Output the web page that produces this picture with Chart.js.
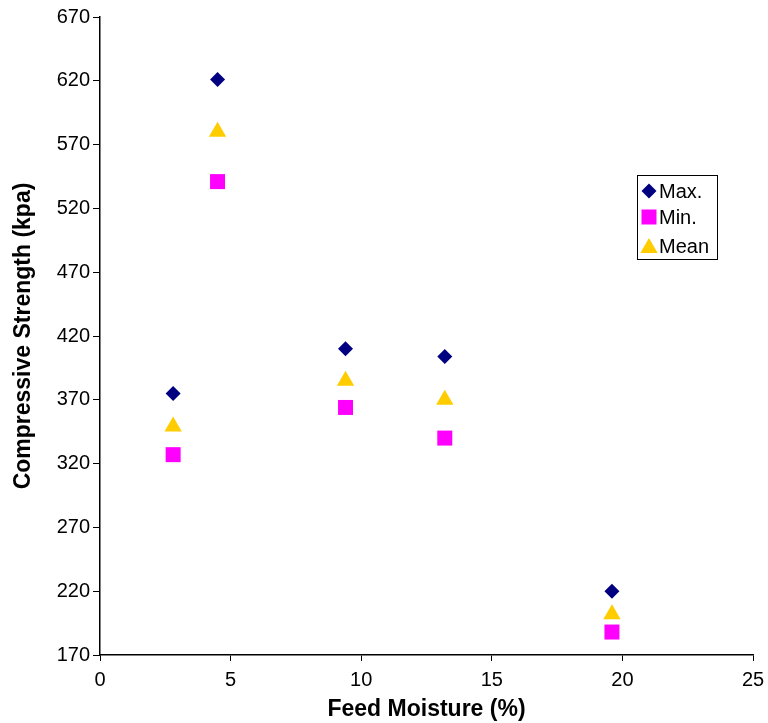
<!DOCTYPE html>
<html>
<head>
<meta charset="utf-8">
<script src="https://cdn.jsdelivr.net/npm/chart.js@4.4.1/dist/chart.umd.min.js"></script>
<style>
  html, body { margin: 0; padding: 0; background: #fff; }
  #wrap { width: 768px; height: 723px; }
</style>
</head>
<body>
<div id="wrap"><canvas id="myChart" width="768" height="723"></canvas></div>
<script>
// values
var moisture = [2.8, 4.5, 9.4, 13.2, 19.6];
var maxStrength = [375, 621, 410, 404, 220];
var minStrength = [327, 541, 364, 340, 188];
var meanStrength = [349, 580, 385, 370, 202];

function toPoints(xs, ys) {
    return xs.map(function (x, i) { return {x: x, y: ys[i]}; });
}

// little legend box sitting inside the plot, like the original
var boxLegend = {
    id: 'boxLegend',
    afterDraw: function (chart) {
        var ctx = chart.ctx;
        var x0 = 637, y0 = 175, w = 80, h = 84;
        ctx.save();
        ctx.fillStyle = '#fff';
        ctx.fillRect(x0, y0, w, h);
        ctx.strokeStyle = '#000';
        ctx.lineWidth = 1;
        ctx.strokeRect(x0 + 0.5, y0 + 0.5, w, h);
        var rows = [191, 217, 246];
        ctx.font = '20px "Liberation Sans", Arial, sans-serif';
        ctx.textBaseline = 'middle';
        ctx.textAlign = 'left';
        chart.data.datasets.forEach(function (ds, i) {
            ctx.fillStyle = ds.backgroundColor;
            ctx.strokeStyle = ds.backgroundColor;
            ctx.lineWidth = 0;
            var my = rows[i] + (ds.pointStyle === 'triangle' ? 2 : 0);
            Chart.helpers.drawPoint(ctx, {pointStyle: ds.pointStyle, radius: ds.pointRadius, rotation: 0, borderWidth: 0}, 649, my);
            ctx.fillStyle = '#000';
            ctx.fillText(ds.label, 659, rows[i] + 1);
        });
        ctx.restore();
    }
};

var ctx = document.getElementById('myChart').getContext('2d');
var chart = new Chart(ctx, {
    type: 'scatter',
    data: {
        datasets: [{
            label: 'Max.',
            data: toPoints(moisture, maxStrength),
            pointStyle: 'rectRot',
            pointRadius: 7.5,
            backgroundColor: '#000080',
            borderColor: '#000080',
            borderWidth: 0
        },
        {
            label: 'Min.',
            data: toPoints(moisture, minStrength),
            pointStyle: 'rect',
            pointRadius: 10.6,
            backgroundColor: '#FF00FF',
            borderColor: '#FF00FF',
            borderWidth: 0
        },
        {
            label: 'Mean',
            data: toPoints(moisture, meanStrength),
            pointStyle: 'triangle',
            pointRadius: 10,
            backgroundColor: '#FFCC00',
            borderColor: '#FFCC00',
            borderWidth: 0
        }]
    },
    options: {
        responsive: false,
        animation: false,
        devicePixelRatio: 1,
        layout: { padding: { top: 17, right: 15, left: 0, bottom: 0 } },
        plugins: {
            legend: { display: false },
            tooltip: { enabled: false }
        },
        scales: {
            x: {
                type: 'linear',
                min: 0,
                max: 25,
                ticks: {
                    stepSize: 5,
                    color: '#000',
                    padding: 7,
                    maxRotation: 0,
                    font: { family: '"Liberation Sans", Arial, sans-serif', size: 20 }
                },
                grid: { drawOnChartArea: false, drawTicks: true, tickLength: 6, color: '#000' },
                border: { display: true, color: '#000', width: 1.5 },
                title: {
                    display: true,
                    text: 'Feed Moisture (%)',
                    color: '#000',
                    padding: { top: 0, bottom: 0 },
                    font: { family: '"Liberation Sans", Arial, sans-serif', size: 23, weight: 'bold', lineHeight: 1.15 }
                },
                afterFit: function (s) { s.height = 68; s.paddingRight = 0; s.paddingLeft = 0; }
            },
            y: {
                type: 'linear',
                min: 170,
                max: 670,
                ticks: {
                    stepSize: 50,
                    color: '#000',
                    padding: 3,
                    font: { family: '"Liberation Sans", Arial, sans-serif', size: 20 }
                },
                grid: { drawOnChartArea: false, drawTicks: true, tickLength: 7, color: '#000' },
                border: { display: true, color: '#000', width: 1.5 },
                title: {
                    display: true,
                    text: 'Compressive Strength (kpa)',
                    color: '#000',
                    padding: { top: 10, bottom: 0 },
                    font: { family: '"Liberation Sans", Arial, sans-serif', size: 23, weight: 'bold', lineHeight: 1.2 }
                },
                afterFit: function (s) { s.width = 100; }
            }
        }
    },
    plugins: [boxLegend]
});
</script>
</body>
</html>
